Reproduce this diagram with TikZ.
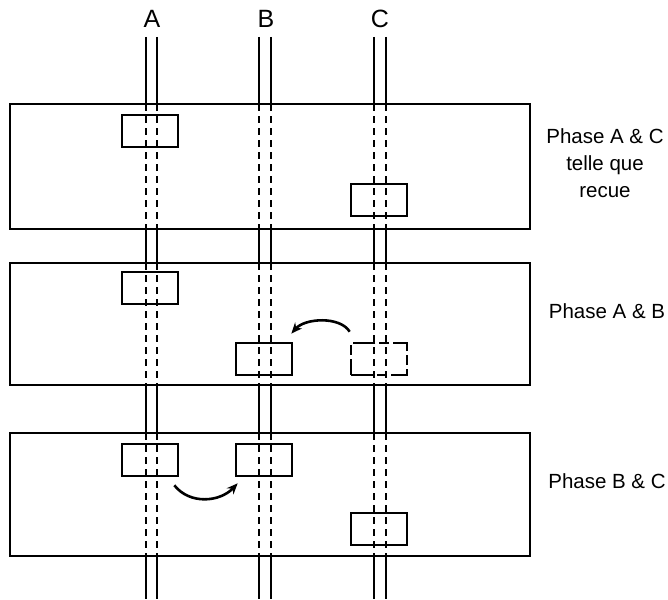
\documentclass[tikz,border=0pt]{standalone}
\usepackage{fontspec}
\setmainfont{Liberation Sans}
\usetikzlibrary{arrows.meta,calc}
\begin{document}
\begin{tikzpicture}[x=1pt,y=-1pt,
  panel/.style={draw,line width=2.6pt},
  wire/.style={line width=2.6pt},
  dwire/.style={line width=2.6pt,dash pattern=on 7pt off 5pt},
  cbox/.style={draw,line width=2.6pt,minimum width=56pt,minimum height=32pt,inner sep=0pt},
  dbox/.style={cbox,dash pattern=on 22pt off 4pt on 10pt off 4pt},
  lbl/.style={font=\fontsize{20.5}{27}\selectfont,align=center},
  top/.style={font=\fontsize{25}{28}\selectfont},
  swap/.style={line width=2.6pt,-{Stealth[length=11pt,width=9pt]}}]
\useasboundingbox (0,0) rectangle (668,599);
% panels
\node[panel,minimum width=520pt,minimum height=125pt,inner sep=0pt] (p1) at (270,166.5) {};
\node[panel,minimum width=520pt,minimum height=122pt,inner sep=0pt] (p2) at (270,324) {};
\node[panel,minimum width=520pt,minimum height=123pt,inner sep=0pt] (p3) at (270,494.5) {};
% wires
\foreach \x in {146,157,259,271,374,386}{
  \draw[wire] (\x,37) -- (\x,104);
  \draw[dwire] (\x,104) -- (\x,229);
  \draw[wire] (\x,229) -- (\x,263);
  \draw[dwire] (\x,263) -- (\x,385);
  \draw[wire] (\x,385) -- (\x,433);
  \draw[dwire] (\x,433) -- (\x,556);
  \draw[wire] (\x,556) -- (\x,599);
}
% top labels
\node[top] (la) at (152,19) {A};
\node[top] (lb) at (266,19) {B};
\node[top] (lc) at (380,19) {C};
% panel 1
\node[cbox] (a1) at (150,131) {};
\node[cbox] (c1) at (379,200) {};
\node[lbl] (t1) at (605,163) {Phase A \& C\\telle que\\recue};
% panel 2
\node[cbox] (a2) at (150,288) {};
\node[cbox] (b2) at (264,359) {};
\node[dbox] (c2) at (379,359) {};
\node[lbl] (t2) at (607,311) {Phase A \& B};
\draw[swap] ($(c2.north west)+(0,-10)$) .. controls (340,316) and (305,318) .. ($(b2.north east)+(-2,-8)$);
% panel 3
\node[cbox] (a3) at (150,460) {};
\node[cbox] (b3) at (264,460) {};
\node[cbox] (c3) at (379,529) {};
\node[lbl] (t3) at (607,481) {Phase B \& C};
\draw[swap] ($(a3.south east)+(-5,8)$) .. controls (190,505) and (220,502) .. ($(b3.south west)+(3,6)$);
\end{tikzpicture}
\end{document}
